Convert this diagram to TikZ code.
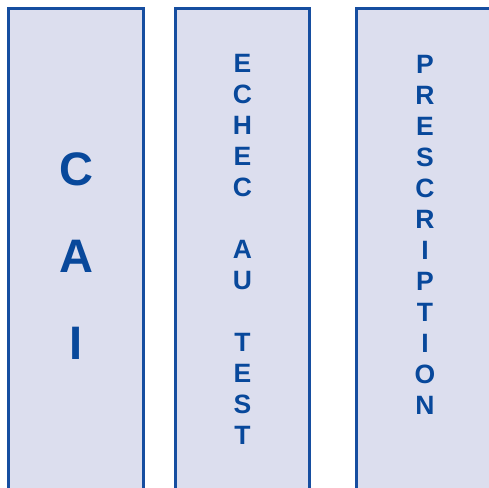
\documentclass[tikz,border=0pt]{standalone}
\usepackage{fontspec}
\setmainfont{Liberation Sans}
\definecolor{colfill}{RGB}{220,222,238}
\definecolor{colborder}{RGB}{22,78,160}
\definecolor{coltext}{RGB}{8,72,155}
\begin{document}
\begin{tikzpicture}[x=1pt,y=-1pt,
  colbox/.style={draw=colborder,fill=colfill,line width=2.4pt},
  bigtxt/.style={text=coltext,align=center,inner sep=0pt,font=\fontsize{47}{87}\selectfont\bfseries},
  smalltxt/.style={text=coltext,align=center,inner sep=0pt,font=\fontsize{26.5}{31}\selectfont\bfseries}]
\useasboundingbox (0,0) rectangle (489,487);
\clip (0,0) rectangle (489,487);
\draw[colbox] (8.5,8.5) rectangle (143.5,520);
\draw[colbox] (175.5,8.5) rectangle (309.5,520);
\draw[colbox] (356.5,8.5) rectangle (494,520);
\node[bigtxt] (cai) at (76,256) {C\\A\\I};
\node[smalltxt] (echec) at (242.5,249.75) {E\\C\\H\\E\\C\\ \\A\\U\\ \\T\\E\\S\\T};
\node[smalltxt] (presc) at (425,234.5) {P\\R\\E\\S\\C\\R\\I\\P\\T\\I\\O\\N};
\end{tikzpicture}
\end{document}
